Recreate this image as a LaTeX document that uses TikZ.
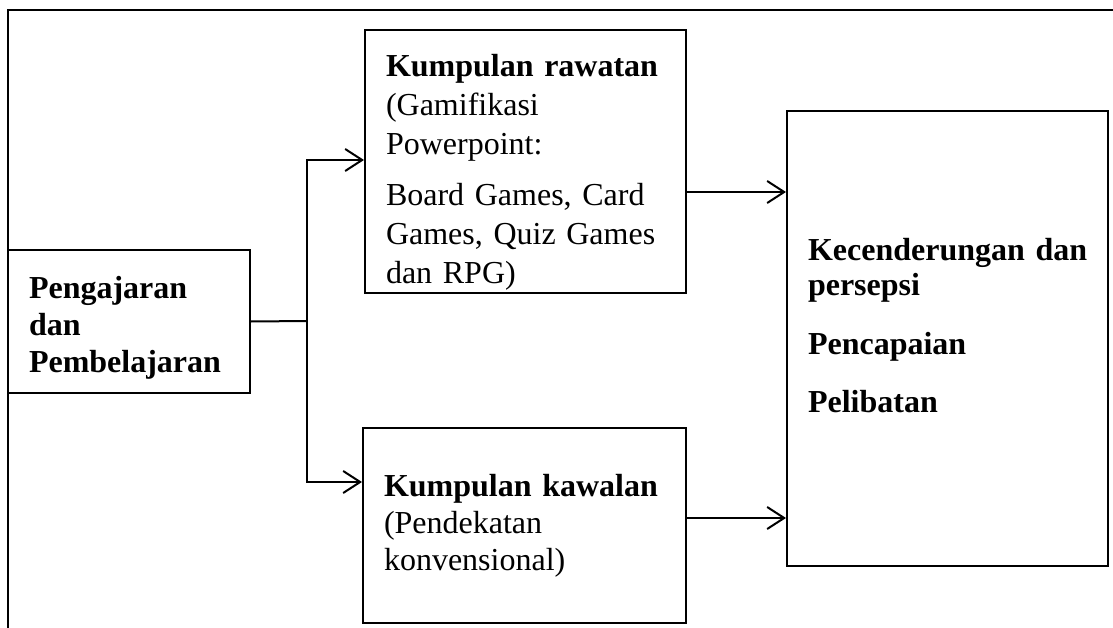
\documentclass[tikz,border=0pt]{standalone}
\usepackage{fontspec}
\setmainfont{Liberation Serif}
\usetikzlibrary{arrows.meta}

\begin{document}
\begin{tikzpicture}[x=1pt, y=-1pt,
    box/.style={draw, line width=2pt, align=left, inner xsep=21pt, inner ysep=0pt, font=\fontsize{32}{37}\selectfont},
    arr/.style={-{Straight Barb[length=17pt,width=22pt]}, line width=2pt}]
    \useasboundingbox (0,0) rectangle (1113,628);
    \draw[line width=1.5pt] (8,628) -- (8,10) -- (1113,10);
    \node[box, text width=200pt, minimum height=143pt] (L) at (129,321.5) {\rule{0pt}{34pt}\textbf{Pengajaran}\\ \textbf{dan}\\ \textbf{Pembelajaran}};
    \node[box, text width=279pt, minimum height=263pt, font=\fontsize{32}{39}\selectfont] (R) at (525.5,161.5) {\rule{0pt}{44pt}\textbf{Kumpulan rawatan}\\ (Gamifikasi\\ Powerpoint:\\[12pt] Board Games, Card\\ Games, Quiz Games\\ dan RPG)};
    \node[box, text width=281pt, minimum height=195pt] (K) at (524.5,525.5) {\textbf{Kumpulan kawalan}\\ (Pendekatan\\ konvensional)};
    \node[box, text width=279pt, minimum height=455pt, font=\fontsize{32}{35}\selectfont] (E) at (947.5,338.5) {\textbf{Kecenderungan~dan}\\ \textbf{persepsi}\\[24pt] \textbf{Pencapaian}\\[23pt] \textbf{Pelibatan}\rule[-26pt]{0pt}{26pt}};
    \coordinate (split) at (307,321);
    \draw[line width=2pt] (L.east) -- (split);
    \draw[arr] (split) |- ([yshift=1.5pt]R.west);
    \draw[arr] (split) |- ([yshift=43.5pt]K.west);
    \draw[arr] ([yshift=-30.5pt]R.east) -- ([yshift=-30.5pt]R.east -| E.west);
    \draw[arr] ([yshift=7.5pt]K.east) -- ([yshift=7.5pt]K.east -| E.west);
\end{tikzpicture}
\end{document}
